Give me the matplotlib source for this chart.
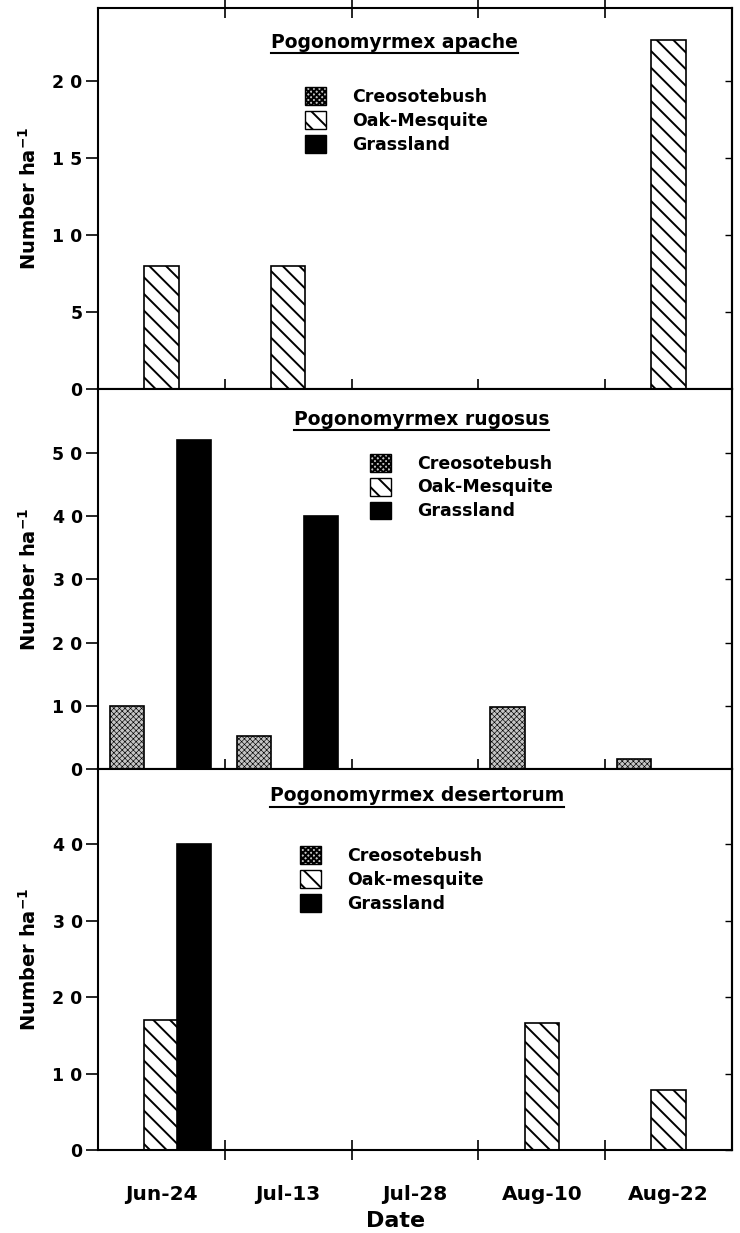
import numpy as np
import matplotlib
matplotlib.use('Agg')
import matplotlib.pyplot as plt
from matplotlib.patches import Patch
from matplotlib.lines import Line2D

plt.rcParams['font.family'] = ['DejaVu Sans']
plt.rcParams['font.weight'] = 'bold'
plt.rcParams['mathtext.fontset'] = 'custom'
plt.rcParams['mathtext.rm'] = 'DejaVu Sans:bold'
plt.rcParams['mathtext.bf'] = 'DejaVu Sans:bold'
plt.rcParams['hatch.linewidth'] = 1.4

dates = ['Jun-24', 'Jul-13', 'Jul-28', 'Aug-10', 'Aug-22']
habitats = ['Creosotebush', 'Oak-Mesquite', 'Grassland']

species = ['Pogonomyrmex apache', 'Pogonomyrmex rugosus', 'Pogonomyrmex desertorum']
legend_labels = [
    ['Creosotebush', 'Oak-Mesquite', 'Grassland'],
    ['Creosotebush', 'Oak-Mesquite', 'Grassland'],
    ['Creosotebush', 'Oak-mesquite', 'Grassland'],
]

# number per ha, per date
apache_creosote = [0, 0, 0, 0, 0]
apache_oak = [8, 8, 0, 0, 22.7]
apache_grass = [0, 0, 0, 0, 0]

rugosus_creosote = [10, 5.3, 0, 9.8, 1.6]
rugosus_oak = [0, 0, 0, 0, 0]
rugosus_grass = [52, 40, 0, 0, 0]

desert_creosote = [0, 0, 0, 0, 0]
desert_oak = [17, 0, 0, 16.6, 7.8]
desert_grass = [40, 0, 0, 0, 0]

panel_data = [
    (apache_creosote, apache_oak, apache_grass),
    (rugosus_creosote, rugosus_oak, rugosus_grass),
    (desert_creosote, desert_oak, desert_grass),
]
ylims = [24.76, 60.1, 49.8]
yticks = [[0, 5, 10, 15, 20], [0, 10, 20, 30, 40, 50], [0, 10, 20, 30, 40]]

styles = [
    dict(facecolor='#c4c4c4', hatch='xxxxxx', edgecolor='black'),
    dict(facecolor='white', hatch='\\\\', edgecolor='black'),
    dict(facecolor='black', hatch=None, edgecolor='black'),
]
offsets = [-0.27, 0.0, 0.26]
width = 0.27

title_pos = [(0.468, 0.91), (0.51, 0.92), (0.503, 0.93)]
legend_pos = [(0.3265, 0.792), (0.429, 0.829), (0.319, 0.798)]

fig = plt.figure(figsize=(7.4, 12.33), dpi=100)
axes = fig.subplots(3, 1, sharex=True)
fig.subplots_adjust(left=98/740, right=732/740, top=1-8/1233, bottom=83/1233, hspace=0)

x = np.arange(len(dates))
titles = []
for i, ax in enumerate(axes):
    for j, vals in enumerate(panel_data[i]):
        vals = np.array(vals, dtype=float)
        m = vals > 0
        st = styles[j]
        bars = ax.bar(x[m] + offsets[j], vals[m], width=width, facecolor=st['facecolor'],
                      edgecolor=st['edgecolor'], linewidth=1.2, hatch=st['hatch'], zorder=2)
        if j == 0:
            for b in bars:
                b.set_hatch_linewidth(0.45)
    ax.set_xlim(-0.5, len(dates) - 0.5)
    ax.set_ylim(0, ylims[i])
    ax.set_yticks(yticks[i])
    ax.set_yticklabels([' '.join(str(v)) for v in yticks[i]], fontsize=12.5, fontweight='bold')
    ax.tick_params(axis='y', direction='out', length=9, width=1.2, pad=2)
    for sp in ax.spines.values():
        sp.set_linewidth(1.5)

    ax.set_xticks(x)
    ax.set_xticks(x[:-1] + 0.5, minor=True)
    ax.tick_params(axis='x', which='major', length=0, pad=25)
    ax.tick_params(axis='x', which='minor', direction='inout', length=14, width=1.2,
                   top=(i == 0))

    sec = ax.secondary_yaxis('right')
    sec.set_yticks(yticks[i])
    sec.tick_params(direction='in', length=5, width=1.0, labelright=False)
    sec.spines['right'].set_linewidth(1.5)

    ax.set_ylabel(r'Number ha$^{-1}$', fontsize=14, fontweight='bold')
    ax.yaxis.set_label_coords(-0.092, 0.5)

    t = ax.text(title_pos[i][0], title_pos[i][1], species[i], transform=ax.transAxes,
                ha='center', va='center', fontsize=13.5, fontweight='bold')
    titles.append(t)

    handles = [Patch(facecolor=styles[k]['facecolor'], edgecolor='black',
                     hatch=styles[k]['hatch'], linewidth=1.0)
               for k in range(3)]
    handles[0].set_hatch_linewidth(0.4)
    ax.legend(handles, legend_labels[i], loc='upper left', bbox_to_anchor=legend_pos[i],
              frameon=False, handlelength=1.2, handleheight=1.2, labelspacing=0.3,
              handletextpad=1.5, borderpad=0, borderaxespad=0,
              prop={'size': 12.5, 'weight': 'bold'})

axes[-1].set_xticklabels(dates, fontsize=14.5, fontweight='bold')
fig.text(396/740, 1 - 1221/1233, 'Date', ha='center', va='center', fontsize=16, fontweight='bold')

# underline the species names
fig.canvas.draw()
r = fig.canvas.get_renderer()
for t in titles:
    bb = t.get_window_extent(renderer=r)
    bbf = bb.transformed(fig.transFigure.inverted())
    y = bbf.y0 - 1.5/1233
    fig.add_artist(Line2D([bbf.x0, bbf.x1], [y, y], transform=fig.transFigure,
                          color='black', linewidth=1.5))

fig.savefig('out.png', dpi=100)
